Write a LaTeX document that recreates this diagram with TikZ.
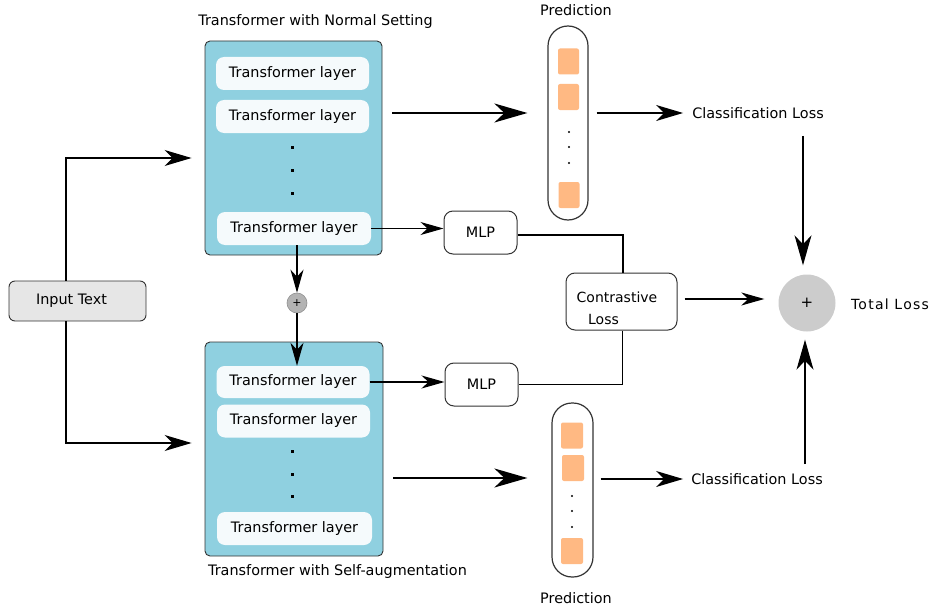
\documentclass[tikz,border=0pt]{standalone}
\usepackage{fontspec}
\setmainfont{DejaVu Sans}
\usetikzlibrary{arrows.meta,calc}
\definecolor{tblue}{HTML}{8FD0E0}
\definecolor{tlayer}{HTML}{F5FAFC}
\definecolor{torange}{HTML}{FFB983}
\definecolor{tgray}{HTML}{E6E6E6}
\definecolor{tplus}{HTML}{B3B3B3}
\definecolor{ttotal}{HTML}{CCCCCC}
\definecolor{tline}{HTML}{333333}
\begin{document}
\begin{tikzpicture}[x=1pt,y=-1pt,
  every node/.style={font=\fontsize{14.4}{16}\selectfont},
  bigbox/.style={draw=tline,line width=0.9pt,fill=tblue,rounded corners=5pt,inner sep=0pt},
  layer/.style={fill=tlayer,rounded corners=8pt,minimum width=153pt,minimum height=33pt,inner sep=0pt},
  pill/.style={draw=tline,line width=1.2pt,fill=white,rounded corners=20pt,inner sep=0pt},
  sq/.style={fill=torange,rounded corners=2pt,inner sep=0pt,minimum width=21pt,minimum height=26pt},
  rbox/.style={draw=tline,line width=1pt,fill=white,rounded corners=9pt,inner sep=0pt},
  plain/.style={inner sep=0pt},
  ln/.style={line width=1.3pt,black},
  tipS/.style={ln,-{Stealth[length=23pt,width=13pt,inset=7pt]}},
  tipM/.style={ln,-{Stealth[length=27pt,width=16pt,inset=8pt]}},
  tipL/.style={ln,-{Stealth[length=30pt,width=17pt,inset=9pt]}},
  tipXL/.style={line width=2pt,black,-{Stealth[length=33pt,width=19pt,inset=10pt]}},
  dot/.style={fill=black,inner sep=0pt,minimum size=3pt},
  sdot/.style={circle,fill=black,inner sep=0pt,minimum size=2.2pt},
]
\useasboundingbox (0,0) rectangle (935,610);

% titles
\node[plain] (ttop) at (315.5,22) {Transformer with Normal Setting};
\node[plain] (tbot) at (337.5,572) {Transformer with Self-augmentation};

% big boxes
\node[bigbox,minimum width=177pt,minimum height=214pt] (A) at (293.5,148) {};
\node[bigbox,minimum width=178pt,minimum height=214pt] (B) at (294,449) {};

% top layers
\node[layer] (L1) at (292.5,73.5) {Transformer layer};
\node[layer] (L2) at (292.5,116.5) {Transformer layer};
\node[layer,minimum width=154pt] (L3) at (294,228.5) {Transformer layer};
\node[dot] (ad1) at (292,147) {};
\node[dot] (ad2) at (292,170) {};
\node[dot] (ad3) at (292,193) {};

% bottom layers
\node[layer,minimum height=32pt] (M1) at (293,382) {Transformer layer};
\node[layer] (M2) at (293.5,421) {Transformer layer};
\node[layer,minimum width=155pt] (M3) at (294.5,528.5) {Transformer layer};
\node[dot] (bd1) at (292,451) {};
\node[dot] (bd2) at (292,474) {};
\node[dot] (bd3) at (292,496) {};

% small plus
\node[circle,draw=tplus!80!black,line width=0.6pt,fill=tplus,minimum size=20pt,inner sep=0pt,font=\fontsize{11}{12}\selectfont] (P) at (297,303) {+};
\draw[tipS] (L3.south -| P.center) -- (P.north);
\draw[tipS] (P.south) -- (M1.north -| P.center);

% input
\node[draw=tline,line width=0.9pt,fill=tgray,rounded corners=6pt,minimum width=137pt,minimum height=40pt,inner sep=0pt] (I) at (77.5,301) {};
\node[plain] (It) at (71.5,301) {Input Text};
\draw[tipM,shorten >=13pt] ($(I.north)+(-11.5,0)$) |- ($(A.west)+(0,10)$);
\draw[tipM,shorten >=13pt] ($(I.south)+(-11.5,0)$) |- ($(B.west)+(0,-6)$);

% prediction pills
\node[pill,minimum width=40pt,minimum height=194pt] (PR1) at (568,123) {};
\node[sq] (s11) at (568.5,61.5) {};
\node[sq] (s12) at (568.5,97) {};
\node[sq] (s13) at (569,195) {};
\node[sdot] at (569,132) {};
\node[sdot] at (569,147) {};
\node[sdot] at (569,163) {};
\node[plain] (pl1) at (576,10) {Prediction};

\node[pill,minimum width=41pt,minimum height=174pt] (PR2) at (572.5,490) {};
\node[sq,minimum width=22pt] (s21) at (572,435.5) {};
\node[sq,minimum width=22pt] (s22) at (573,468) {};
\node[sq,minimum width=22pt] (s23) at (572,551) {};
\node[sdot] at (572,496) {};
\node[sdot] at (572,511) {};
\node[sdot] at (572,527) {};
\node[plain] (pl2) at (576,598) {Prediction};

% big arrows
\draw[tipXL,shorten <=10pt,shorten >=20pt] ([yshift=3.5pt]A.east |- L2.east) -- ([yshift=3.5pt]PR1.west |- L2.east);
\draw[tipXL,shorten <=10pt,shorten >=24pt] ([yshift=-29pt]B.east) -- ([yshift=-29pt]B.east -| PR2.west);

% classification losses
\node[plain] (C1) at (758,113) {Classification Loss};
\node[plain] (C2) at (757,479) {Classification Loss};
\draw[tipM,shorten <=8pt,shorten >=9pt] (PR1.east |- C1.west) -- (C1.west);
\draw[tipM,shorten <=7pt,shorten >=8pt] (PR2.east |- C2.west) -- (C2.west);

% total loss
\node[circle,fill=ttotal,minimum size=57pt,inner sep=0pt,font=\fontsize{15}{16}\selectfont] (T) at (807,303) {+};
\node[plain,font=\fontsize{14}{16}\selectfont\addfontfeature{LetterSpace=9}] (TL) at (890,304) {Total Loss};
\draw[tipL,shorten <=17pt,shorten >=9pt] ([xshift=-4pt]C1.south -| T.north) -- ([xshift=-4pt]T.north);
\draw[tipL,shorten <=9pt,shorten >=8pt] ([xshift=-2pt]C2.north -| T.south) -- ([xshift=-2pt]T.south);

% MLPs
\node[rbox,minimum width=73pt,minimum height=43pt] (Mt) at (480.5,232.5) {MLP};
\node[rbox,minimum width=73pt,minimum height=43pt] (Mb) at (481.5,384.5) {MLP};
\draw[tipS] (L3.east) -- (L3.east -| Mt.west);
\draw[tipS] (M1.east) -- (M1.east -| Mb.west);

% contrastive
\node[rbox,minimum width=111pt,minimum height=57pt] (Cl) at (621.5,301.5) {};
\node[plain,font=\fontsize{14}{16}\selectfont] (ct1) at (617,297) {Contrastive};
\node[plain,font=\fontsize{14}{16}\selectfont] (ct2) at (603.5,319) {Loss};
\draw[ln] ([yshift=-2.5pt]Mt.east) -| ([xshift=1.5pt]Cl.north);
\draw[ln] ([xshift=1pt]Cl.south) |- (Mb.east);
\draw[tipS,shorten <=7pt,shorten >=14pt] ([yshift=2.5pt]Cl.east) -- ([yshift=2.5pt]Cl.east -| T.west);

\end{tikzpicture}
\end{document}
